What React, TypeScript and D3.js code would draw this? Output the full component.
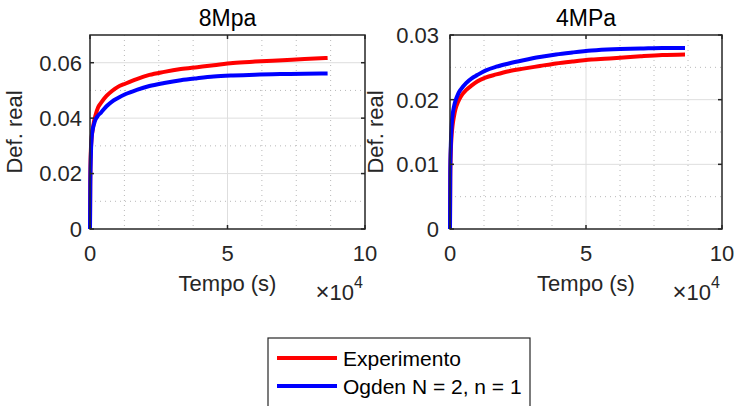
import React from "react";
import * as d3 from "d3";

// tempo (s)
const tempo = [0, 100, 300, 600, 1000, 1500, 2000, 3000, 4000, 6000, 8000, 10000, 13000, 17000, 21600, 27000, 33000, 39000, 45000, 52000, 60000, 70000, 78000, 86400];

// 8 MPa
const exp8 = [0, 0.018, 0.028, 0.033, 0.036, 0.039, 0.041, 0.044, 0.0455, 0.048, 0.0498, 0.0512, 0.0525, 0.0541, 0.0556, 0.0567, 0.0577, 0.0584, 0.0591, 0.0599, 0.0604, 0.0609, 0.0613, 0.0617];
const ogden8 = [0, 0.015, 0.026, 0.033, 0.036, 0.038, 0.0395, 0.041, 0.042, 0.0443, 0.046, 0.0472, 0.0487, 0.0502, 0.0516, 0.0527, 0.0537, 0.0544, 0.055, 0.0554, 0.0557, 0.0559, 0.056, 0.0561];

// 4 MPa
const exp4 = [0, 0.008, 0.012, 0.0145, 0.0162, 0.0175, 0.0185, 0.0197, 0.0205, 0.0215, 0.0222, 0.0228, 0.0234, 0.0239, 0.0244, 0.0248, 0.0252, 0.0256, 0.0259, 0.0262, 0.0264, 0.0267, 0.0269, 0.027];
const ogden4 = [0, 0.009, 0.013, 0.016, 0.0178, 0.019, 0.0198, 0.0209, 0.0216, 0.0226, 0.0233, 0.0238, 0.0245, 0.0251, 0.0256, 0.0261, 0.0266, 0.027, 0.0273, 0.0276, 0.0278, 0.0279, 0.028, 0.028];

const xTicks = [0, 5, 10];
const xMinor = [1.25, 2.5, 3.75, 6.25, 7.5, 8.75];
const yTicks8 = [0, 0.02, 0.04, 0.06];
const yMinor8 = [0.01, 0.03, 0.05];
const yTicks4 = [0, 0.01, 0.02, 0.03];
const yMinor4 = [0.005, 0.015, 0.025];

const legendLabels = ["Experimento", "Ogden N = 2, n = 1"];
const RED = "#ff0000";
const BLUE = "#0000ff";
const INK = "#262626";
const FONT = "'Liberation Sans', Arial, sans-serif";

type PanelProps = {
  left: number; right: number; top: number; bottom: number;
  yMax: number; yTicks: number[]; yMinor: number[];
  exp: number[]; ogden: number[]; title: string; labelX: number; tickGap: number;
};

function Panel(p: PanelProps) {
  const x = d3.scaleLinear().domain([0, 10]).range([p.left, p.right]);
  const y = d3.scaleLinear().domain([0, p.yMax]).range([p.bottom, p.top]);
  const line = (vals: number[]) =>
    d3.line<number>()
      .x((_, i) => x(tempo[i] / 1e4))
      .y((v) => y(v))
      .curve(d3.curveMonotoneX)(vals) || "";
  const fmt = (v: number) => (v === 0 ? "0" : d3.format(".2f")(v));
  const cx = (p.left + p.right) / 2;
  const cy = (p.top + p.bottom) / 2;
  return (
    <g fontFamily={FONT} fill={INK}>
      <rect x={p.left} y={p.top} width={p.right - p.left} height={p.bottom - p.top} fill="#fff" />
      {/* minor grid */}
      {xMinor.map((t) => (
        <line key={"xm" + t} x1={x(t)} x2={x(t)} y1={p.top} y2={p.bottom} stroke="#b8b8b8" strokeDasharray="1 4" />
      ))}
      {p.yMinor.map((t) => (
        <line key={"ym" + t} y1={y(t)} y2={y(t)} x1={p.left} x2={p.right} stroke="#b8b8b8" strokeDasharray="1 4" />
      ))}
      {/* major grid */}
      {xTicks.slice(1, -1).map((t) => (
        <line key={"xg" + t} x1={x(t)} x2={x(t)} y1={p.top} y2={p.bottom} stroke="#dedede" strokeWidth={1} />
      ))}
      {p.yTicks.slice(1).filter((t) => t < p.yMax).map((t) => (
        <line key={"yg" + t} y1={y(t)} y2={y(t)} x1={p.left} x2={p.right} stroke="#dedede" strokeWidth={1} />
      ))}
      {/* curves */}
      <path d={line(p.exp)} fill="none" stroke={RED} strokeWidth={4} />
      <path d={line(p.ogden)} fill="none" stroke={BLUE} strokeWidth={4} />
      {/* box and ticks */}
      <rect x={p.left} y={p.top} width={p.right - p.left} height={p.bottom - p.top} fill="none" stroke={INK} strokeWidth={1.5} />
      {xTicks.map((t) => (
        <g key={"xt" + t}>
          <line x1={x(t)} x2={x(t)} y1={p.bottom} y2={p.bottom - 4} stroke={INK} strokeWidth={1.5} />
          <line x1={x(t)} x2={x(t)} y1={p.top} y2={p.top + 4} stroke={INK} strokeWidth={1.5} />
          <text x={x(t)} y={p.bottom + 32} textAnchor="middle" fontSize={22}>{t}</text>
        </g>
      ))}
      {p.yTicks.map((t) => (
        <g key={"yt" + t}>
          <line x1={p.left} x2={p.left + 4} y1={y(t)} y2={y(t)} stroke={INK} strokeWidth={1.5} />
          <line x1={p.right} x2={p.right - 4} y1={y(t)} y2={y(t)} stroke={INK} strokeWidth={1.5} />
          <text x={p.left - p.tickGap} y={y(t)} dy="0.36em" textAnchor="end" fontSize={22}>{fmt(t)}</text>
        </g>
      ))}
      <text x={cx} y={26} textAnchor="middle" fontSize={23} fill="#000">{p.title}</text>
      <text x={cx} y={291} textAnchor="middle" fontSize={22}>Tempo (s)</text>
      <text x={p.right - 2} y={300} textAnchor="end" fontSize={22}>
        <tspan fontSize={24}>×</tspan>
        <tspan>10</tspan>
        <tspan dy={-12} fontSize={16}>4</tspan>
      </text>
      <text transform={`translate(${p.labelX},${cy}) rotate(-90)`} textAnchor="middle" fontSize={22}>Def. real</text>
    </g>
  );
}

export default function App() {
  const lx = 268;
  const ly = 338;
  return (
    <svg width={734} height={406} style={{ position: "absolute", left: 0, top: 0, background: "#fff" }}>
      <rect width={734} height={406} fill="#fff" />
      <Panel left={90} right={365} top={35} bottom={229} yMax={0.07} yTicks={yTicks8} yMinor={yMinor8}
        exp={exp8} ogden={ogden8} title="8Mpa" labelX={22} tickGap={8} />
      <Panel left={450} right={722} top={35} bottom={229} yMax={0.03} yTicks={yTicks4} yMinor={yMinor4}
        exp={exp4} ogden={ogden4} title="4MPa" labelX={383} tickGap={11} />
      {/* legend */}
      <g fontFamily={FONT} fontSize={21} fill="#000">
        <rect x={lx} y={ly} width={262} height={90} fill="#fff" stroke={INK} strokeWidth={1.2} />
        {legendLabels.map((lab, i) => (
          <g key={lab}>
            <line x1={lx + 9} x2={lx + 69} y1={ly + 20 + i * 28} y2={ly + 20 + i * 28}
              stroke={i === 0 ? RED : BLUE} strokeWidth={4} />
            <text x={lx + 75} y={ly + 20 + i * 28} dy="0.36em">{lab}</text>
          </g>
        ))}
      </g>
    </svg>
  );
}
